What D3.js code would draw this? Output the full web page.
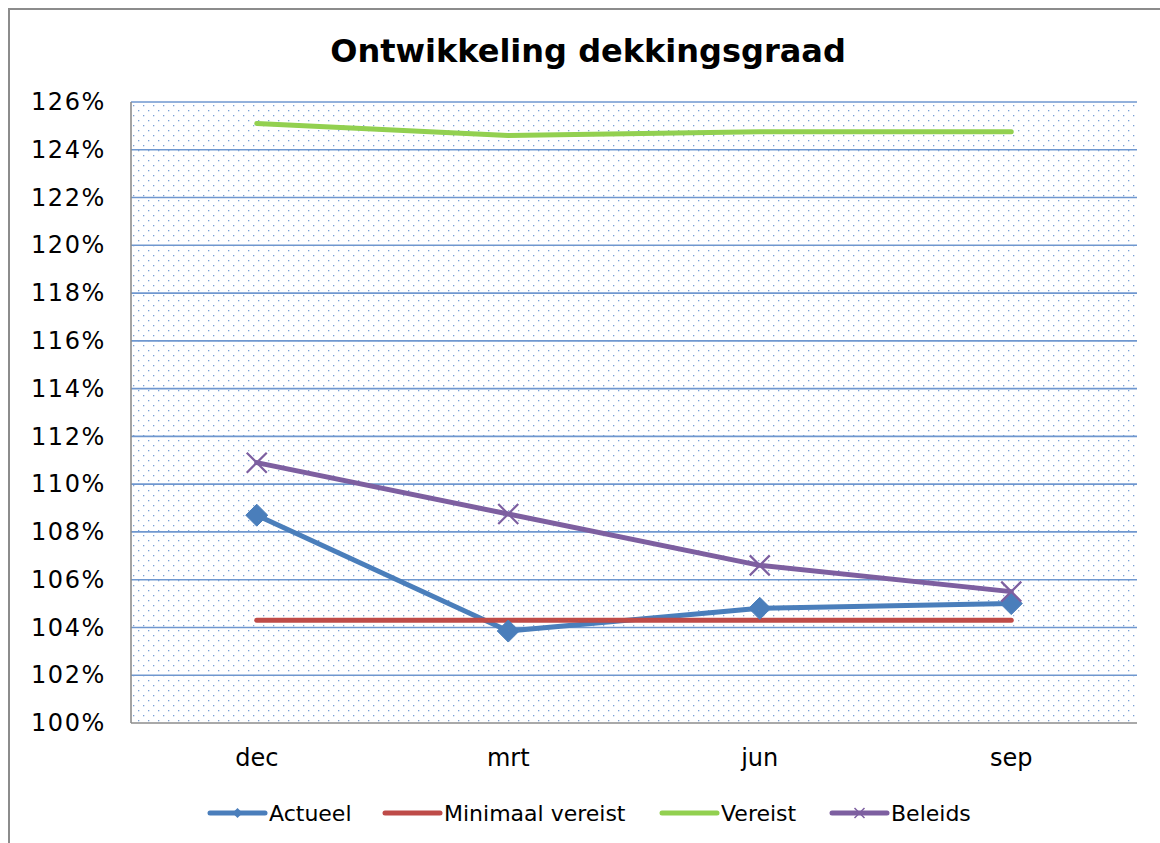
<!DOCTYPE html>
<html><head><meta charset="utf-8">
<script src="https://cdn.jsdelivr.net/npm/d3@7"></script>
<style>body{margin:0;background:#fff;} svg{display:block;}</style>
</head><body>
<script>
const categories = ["dec","mrt","jun","sep"];
const actueel = [108.7, 103.85, 104.8, 105.0];
const minimaal = [104.3, 104.3, 104.3, 104.3];
const vereist = [125.1, 124.6, 124.75, 124.75];
const beleids = [110.9, 108.75, 106.6, 105.5];
const yTicks = [100,102,104,106,108,110,112,114,116,118,120,122,124,126];
const seriesNames = ["Actueel","Minimaal vereist","Vereist","Beleids"];
const seriesColors = ["#4a7ebb","#be4b48","#92d050","#7d5fa0"];

const W = 1160, H = 843;
const svg = d3.select("body").append("svg").attr("width", W).attr("height", H);
const font = "'DejaVu Sans', Verdana, sans-serif";

// outer chart border
svg.append("path").attr("d", `M9,${H+5} L9,9 L${W+5},9`).attr("fill","none")
  .attr("stroke","#8c8c8c").attr("stroke-width",2);

const plot = {l:131, r:1137, t:102, b:723};
const x = d3.scaleBand().domain(categories).range([plot.l, plot.r]);
const y = d3.scaleLinear().domain([100,126]).range([plot.b, plot.t]);

const defs = svg.append("defs");
const pat = defs.append("pattern").attr("id","dots").attr("patternUnits","userSpaceOnUse")
  .attr("width",10).attr("height",10).attr("x",plot.l+2).attr("y",plot.t+3);
pat.append("rect").attr("x",0).attr("y",0).attr("width",1.3).attr("height",1.3).attr("fill","#7aa0d6");
pat.append("rect").attr("x",5).attr("y",5).attr("width",1.3).attr("height",1.3).attr("fill","#7aa0d6");

svg.append("rect").attr("x",plot.l).attr("y",plot.t).attr("width",plot.r-plot.l).attr("height",plot.b-plot.t)
  .attr("fill","url(#dots)");

// gridlines
svg.append("g").selectAll("line").data(yTicks.filter(d=>d>100)).join("line")
  .attr("x1",plot.l).attr("x2",plot.r).attr("y1",d=>y(d)).attr("y2",d=>y(d))
  .attr("stroke","#6f97cf").attr("stroke-width",1.6);

// axes lines
svg.append("line").attr("x1",plot.l).attr("x2",plot.l).attr("y1",plot.t).attr("y2",plot.b)
  .attr("stroke","#8c8c8c").attr("stroke-width",1.6);
svg.append("line").attr("x1",plot.l).attr("x2",plot.r).attr("y1",plot.b).attr("y2",plot.b)
  .attr("stroke","#8c8c8c").attr("stroke-width",1.6);

// y labels
const yAxis = d3.axisLeft(y).tickValues(yTicks).tickFormat(d=>d+"%").tickSize(0).tickPadding(25);
const ya = svg.append("g").attr("transform",`translate(${plot.l},0)`).call(yAxis);
ya.select(".domain").remove();
ya.selectAll("text").attr("font-family",font).attr("font-size",24).attr("fill","#000").attr("letter-spacing","1.6px");

// x labels
const xAxis = d3.axisBottom(x).tickSize(0).tickPadding(26);
const xa = svg.append("g").attr("transform",`translate(0,${plot.b})`).call(xAxis);
xa.select(".domain").remove();
xa.selectAll("text").attr("font-family",font).attr("font-size",24).attr("fill","#000");

// title
svg.append("text").attr("x",588).attr("y",62).attr("text-anchor","middle")
  .attr("font-family",font).attr("font-weight","bold").attr("font-size",32)
  .text("Ontwikkeling dekkingsgraad");

const cx = c => x(c) + x.bandwidth()/2;
const line = d3.line().x((d,i)=>cx(categories[i])).y(d=>y(d));
const allSeries = [actueel, minimaal, vereist, beleids];

allSeries.forEach((s,k)=>{
  svg.append("path").attr("d", line(s)).attr("fill","none")
    .attr("stroke",seriesColors[k]).attr("stroke-width",5).attr("stroke-linecap","round").attr("stroke-linejoin","round");
});

// markers Actueel: diamonds
svg.append("g").selectAll("path").data(actueel).join("path")
  .attr("transform",(d,i)=>`translate(${cx(categories[i])},${y(d)})`)
  .attr("d","M0,-11 L11,0 L0,11 L-11,0 Z").attr("fill",seriesColors[0]).attr("stroke",seriesColors[0]).attr("stroke-width",1);

// markers Beleids: X
svg.append("g").selectAll("path").data(beleids).join("path")
  .attr("transform",(d,i)=>`translate(${cx(categories[i])},${y(d)})`)
  .attr("d","M-10,-10 L10,10 M-10,10 L10,-10").attr("fill","none").attr("stroke",seriesColors[3]).attr("stroke-width",2.2);

// legend
const legX = [210, 385, 662, 832];
const legY = 813;
const lg = svg.append("g");
seriesNames.forEach((n,k)=>{
  lg.append("line").attr("x1",legX[k]).attr("x2",legX[k]+55).attr("y1",legY).attr("y2",legY)
    .attr("stroke",seriesColors[k]).attr("stroke-width",5).attr("stroke-linecap","round");
  if(k===0){
    lg.append("path").attr("transform",`translate(${legX[k]+27.5},${legY})`).attr("d","M0,-5 L5,0 L0,5 L-5,0Z").attr("fill",seriesColors[0]);
  }
  if(k===3){
    lg.append("path").attr("transform",`translate(${legX[k]+27.5},${legY})`).attr("d","M-5,-5 L5,5 M-5,5 L5,-5").attr("stroke",seriesColors[3]).attr("stroke-width",1.5);
  }
  lg.append("text").attr("x",legX[k]+59).attr("y",legY).attr("dy","0.35em")
    .attr("font-family",font).attr("font-size",22).attr("fill","#000").text(n);
});
</script>
</body></html>
